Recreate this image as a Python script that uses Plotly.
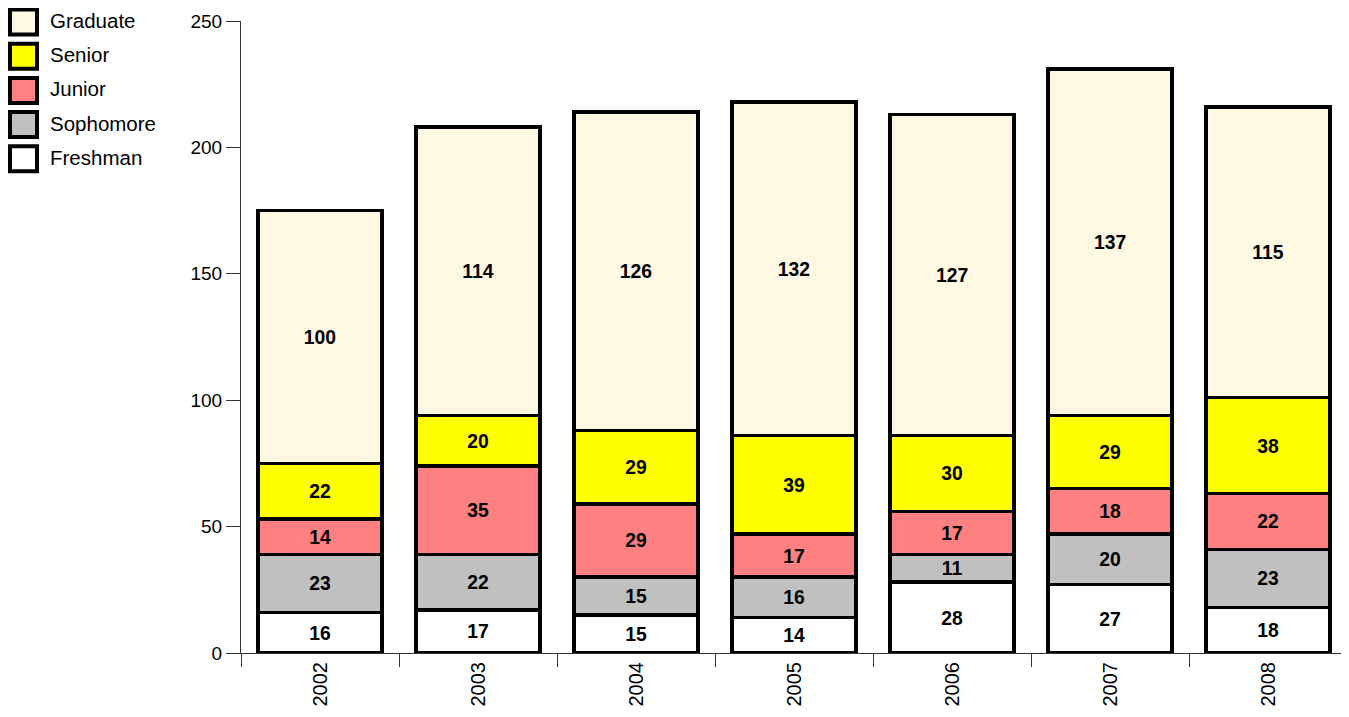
import plotly.graph_objects as go

years = ["2002", "2003", "2004", "2005", "2006", "2007", "2008"]
freshman = [16, 17, 15, 14, 28, 27, 18]
sophomore = [23, 22, 15, 16, 11, 20, 23]
junior = [14, 35, 29, 17, 17, 18, 22]
senior = [22, 20, 29, 39, 30, 29, 38]
graduate = [100, 114, 126, 132, 127, 137, 115]

series = [
    ("Freshman", freshman, "#FFFFFF"),
    ("Sophomore", sophomore, "#C0C0C0"),
    ("Junior", junior, "#FF8080"),
    ("Senior", senior, "#FFFF00"),
    ("Graduate", graduate, "#FFF8E2"),
]

W, H = 1349, 717
OFF = 8  # page body margin
ML, MT = 241 - OFF, 21 - OFF
PW, PH = 1106, 632
MR = W - ML - PW
MB = H - MT - PH
FONT = "Liberation Sans, Arial, sans-serif"

fig = go.Figure()
for name, vals, color in series:
    fig.add_trace(go.Bar(
        x=years, y=vals, name=name,
        marker=dict(color=color, line=dict(color="#000000", width=3.5)),
        text=[str(v) for v in vals],
        textposition="inside", insidetextanchor="middle", textangle=0,
        textfont=dict(family=FONT, size=19.5, color="#000000", weight="bold"),
        showlegend=False,
    ))

def px_x(px):
    return (px - OFF - ML) / PW

def px_y(py):
    return (MT + PH - (py - OFF)) / PH

shapes = []
annotations = []
for i, (name, vals, color) in enumerate(reversed(series)):
    cy = 22 + i * 34.2
    shapes.append(dict(type="rect", xref="paper", yref="paper",
                       x0=px_x(10), x1=px_x(37), y0=px_y(cy + 12.5), y1=px_y(cy - 12.5),
                       fillcolor=color, line=dict(color="#000000", width=4)))
    annotations.append(dict(xref="paper", yref="paper", x=px_x(48), y=px_y(cy - 1.5),
                            text=name, showarrow=False, xanchor="left", yanchor="middle",
                            font=dict(family=FONT, size=20.5, color="#000000")))

fig.update_layout(
    width=W, height=H,
    margin=dict(l=ML, r=MR, t=MT, b=MB, autoexpand=False),
    barmode="stack", bargap=0.215,
    plot_bgcolor="#FFFFFF", paper_bgcolor="#FFFFFF",
    font=dict(family=FONT, size=19, color="#000000"),
    uniformtext=dict(minsize=19, mode="show"),
    shapes=shapes, annotations=annotations,
    xaxis=dict(type="category", tickson="boundaries", ticks="outside", ticklen=13,
               tickcolor="#333333", showline=True, linecolor="#333333", linewidth=1,
               tickangle=-90, showgrid=False, tickfont=dict(size=20), automargin=False),
    yaxis=dict(range=[0, 250], dtick=50, ticks="outside", ticklen=14,
               tickcolor="#333333", showline=True, linecolor="#333333", linewidth=1,
               showgrid=False, zeroline=False, tickfont=dict(size=19), automargin=False),
)

fig.write_html("out.html")
